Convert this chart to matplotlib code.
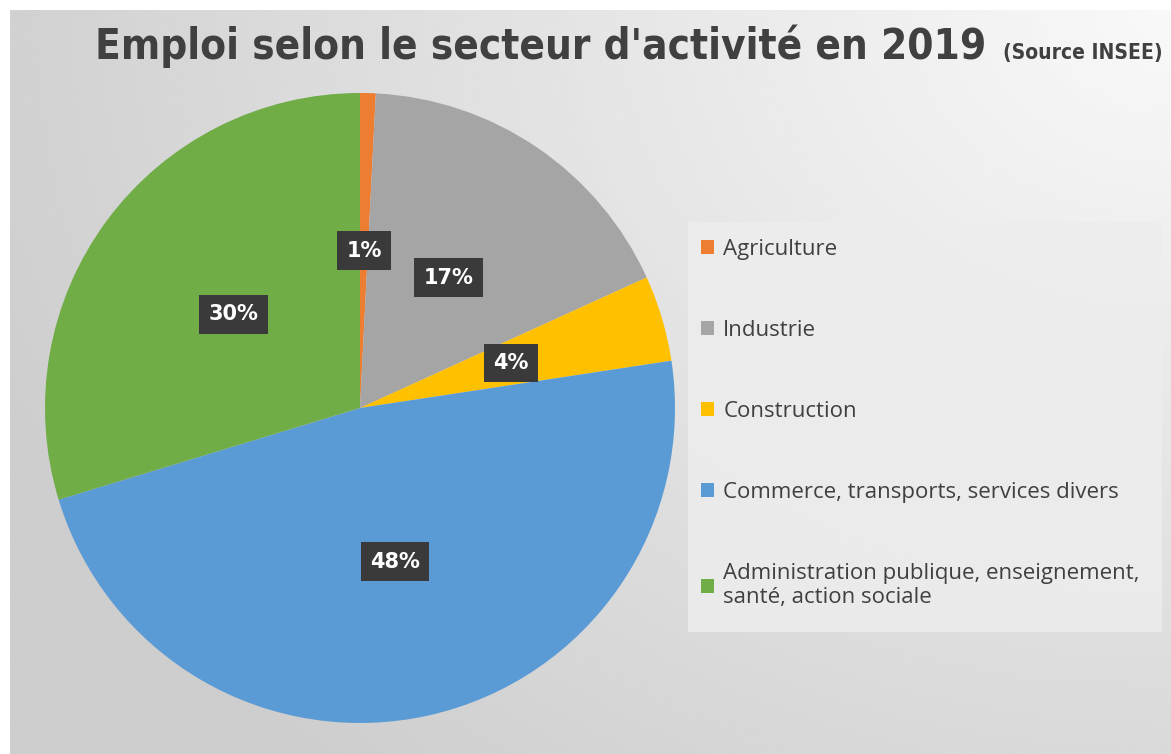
import numpy as np
import matplotlib
matplotlib.use("Agg")
import matplotlib.pyplot as plt
from matplotlib.patches import Patch, Rectangle

categories = ["Agriculture", "Industrie", "Construction",
              "Commerce, transports, services divers",
              "Administration publique, enseignement,\nsanté, action sociale"]
values = [0.8, 17.4, 4.4, 47.7, 29.7]
colors = ["#ED7D31", "#A5A5A5", "#FFC000", "#5B9BD5", "#70AD47"]
title_main = "Emploi selon le secteur d'activité en 2019"
title_src = "(Source INSEE)"

W, H = 1171, 754
fig = plt.figure(figsize=(W / 100, H / 100), dpi=100)
fig.patch.set_facecolor("white")

# background gradient
bg = fig.add_axes([10 / W, 0, 1 - 10 / W, 1 - 10 / H])
yy, xx = np.mgrid[0:1:300j, 0:1:500j]
d = np.sqrt(((1 - xx) * 1.0) ** 2 + ((1 - yy) * 0.8) ** 2)
img = 0.975 - 0.17 * np.clip(d / 1.1, 0, 1)
bg.imshow(img, cmap="gray", vmin=0, vmax=1, extent=[0, 1, 0, 1],
          origin="lower", aspect="auto", interpolation="bicubic")
bg.set_axis_off()

# legend panel
bg.add_patch(Rectangle(((688 - 10) / (W - 10), (754 - 632) / (H - 10)),
                       (1162 - 688) / (W - 10), (632 - 222) / (H - 10),
                       transform=bg.transAxes, facecolor="#ededed",
                       edgecolor="none", alpha=0.85))

cx, cy, r = 360, 408, 315
ax = fig.add_axes([(cx - r) / W, (H - cy - r) / H, 2 * r / W, 2 * r / H])
wedges, texts, autotexts = ax.pie(
    values, colors=colors, startangle=90, counterclock=False,
    autopct=lambda p: f"{p:.0f}%", pctdistance=0.5,
    wedgeprops=dict(linewidth=0),
    textprops=dict(color="white", fontsize=15, fontweight="bold",
                   family="DejaVu Sans"))
for t in autotexts:
    t.set_bbox(dict(boxstyle="square,pad=0.45", facecolor="#3a3a3a",
                    edgecolor="none"))
ax.set_xlim(-1, 1)
ax.set_ylim(-1, 1)
ax.set_aspect("equal")
ax.set_axis_off()

# title (fit to reference width)
renderer = fig.canvas.get_renderer()
t1 = fig.text(95 / W, 1 - 59 / H, title_main, fontsize=30, fontweight="bold",
              color="#404040", family="DejaVu Sans", fontstretch="condensed",
              va="baseline", ha="left")
w1 = t1.get_window_extent(renderer).width
t1.set_fontsize(30 * (985 - 95) / w1)
t2 = fig.text(1003 / W, 1 - 59 / H, title_src, fontsize=14, fontweight="bold",
              color="#404040", family="DejaVu Sans", fontstretch="condensed",
              va="baseline", ha="left")
w2 = t2.get_window_extent(renderer).width
t2.set_fontsize(14 * (1163 - 1003) / w2)

handles = [Patch(facecolor=c, edgecolor="none") for c in colors]
leg = fig.legend(handles, categories, loc="upper left",
                 bbox_to_anchor=(681 / W, 1 - 219 / H), frameon=False,
                 labelspacing=2.7, handlelength=0.6,
                 handleheight=0.6, handletextpad=0.4,
                 prop=dict(family="Open Sans", size=16))
for t in leg.get_texts():
    t.set_color("#404040")

fig.savefig("out.png", dpi=100)
